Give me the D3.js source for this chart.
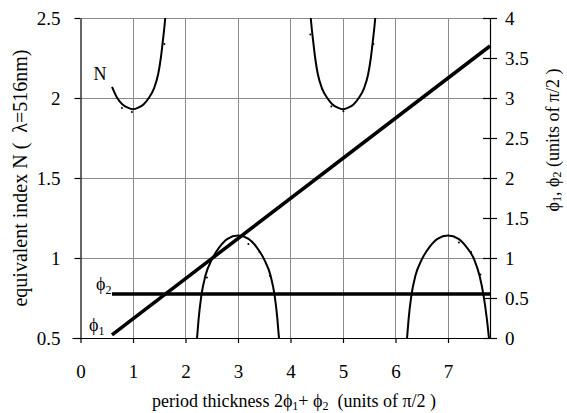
<!DOCTYPE html>
<html>
<head>
<meta charset="utf-8">
<script src="https://cdn.jsdelivr.net/npm/d3@7"></script>
<style>
  html, body { margin: 0; padding: 0; background: #fff; }
  svg { display: block; }
</style>
</head>
<body>
<div id="chart"></div>
<script>
// Equivalent index N branches (left axis), x = period thickness in units of pi/2
const branchA = [[0.60,2.07],[0.70,2.00],[0.80,1.96],[0.90,1.94],[1.00,1.93],[1.10,1.94],[1.20,1.96],[1.30,2.00],[1.40,2.06],[1.48,2.15],[1.53,2.25],[1.57,2.36],[1.60,2.45],[1.62,2.52]];
const branchB = [[4.38,2.52],[4.40,2.45],[4.43,2.36],[4.47,2.25],[4.52,2.15],[4.60,2.06],[4.70,2.00],[4.80,1.96],[4.90,1.94],[5.00,1.93],[5.10,1.94],[5.20,1.96],[5.30,2.00],[5.40,2.06],[5.48,2.15],[5.53,2.25],[5.57,2.36],[5.60,2.45],[5.62,2.52]];
const branchC = [[2.22,0.50],[2.25,0.62],[2.30,0.76],[2.38,0.89],[2.50,0.99],[2.65,1.07],[2.80,1.12],[3.00,1.14],[3.20,1.12],[3.35,1.07],[3.50,0.99],[3.62,0.89],[3.70,0.76],[3.75,0.62],[3.78,0.50]];
const branchD = [[6.22,0.50],[6.25,0.62],[6.30,0.76],[6.38,0.89],[6.50,0.99],[6.65,1.07],[6.80,1.12],[7.00,1.14],[7.20,1.12],[7.35,1.07],[7.50,0.99],[7.60,0.89],[7.68,0.76],[7.74,0.62],[7.78,0.50]];
// Computed sample points along the branches
const samplePoints = [[0.75,1.95],[0.94,1.925],[1.56,2.35],[4.34,2.41],[4.56,2.07],[4.74,1.96],[4.97,1.93],[5.54,2.35],[2.37,0.89],[3.16,1.10],[3.37,1.05],[3.57,0.90],[7.17,1.11],[7.40,1.05],[7.58,0.91]];
// Layer phases (right axis), units of pi/2
const phi1 = [[0.6,0.04],[7.8,3.65]];
const phi2 = [[0.6,0.55],[7.8,0.55]];
// Tick values
const xTicks = [0,1,2,3,4,5,6,7];
const leftTicks = [0.5,1,1.5,2,2.5];
const rightTicks = [0,0.5,1,1.5,2,2.5,3,3.5,4];

const W = 567, H = 413;
const m = {left: 80.5, right: 490, top: 18, bottom: 338};
const FONT = '"Liberation Serif", "Times New Roman", "DejaVu Serif", serif';

const svg = d3.select("#chart").append("svg").attr("width", W).attr("height", H)
  .style("font-family", FONT);
svg.append("rect").attr("width", W).attr("height", H).attr("fill", "#fff");

const x = d3.scaleLinear().domain([0, 7.8]).range([m.left, m.right]);
const yL = d3.scaleLinear().domain([0.5, 2.5]).range([m.bottom, m.top]);
const yR = d3.scaleLinear().domain([0, 4]).range([m.bottom, m.top]);

// grid
const grid = svg.append("g").attr("stroke", "#8a8a8a").attr("stroke-width", 1).attr("shape-rendering", "crispEdges");
grid.selectAll(".gv").data(xTicks.filter(d => d > 0)).join("line")
  .attr("x1", d => x(d)).attr("x2", d => x(d)).attr("y1", m.top).attr("y2", m.bottom);
grid.selectAll(".gh").data(leftTicks.filter(d => d > 0.5)).join("line")
  .attr("x1", m.left).attr("x2", m.right).attr("y1", d => yL(d)).attr("y2", d => yL(d));

// axes
const fs = "19px";
const fmt = d3.format("~g");
const ax = svg.append("g").attr("transform", `translate(0,${m.bottom})`)
  .call(d3.axisBottom(x).tickValues(xTicks).tickFormat(fmt).tickSize(5).tickPadding(22).tickSizeOuter(0));
ax.select(".domain").attr("d", `M${m.left - 8},0.5H${m.right + 7}`);
const al = svg.append("g").attr("transform", `translate(${m.left},0)`)
  .call(d3.axisLeft(yL).tickValues(leftTicks).tickFormat(fmt).tickSize(6).tickPadding(14).tickSizeOuter(0));
const ar = svg.append("g").attr("transform", `translate(${m.right},0)`)
  .call(d3.axisRight(yR).tickValues(rightTicks).tickFormat(fmt).tickSize(7).tickPadding(8).tickSizeOuter(0));
ar.selectAll(".tick line").attr("x1", -7);
[ax, al, ar].forEach(g => {
  g.attr("font-family", FONT).attr("font-size", fs);
  g.selectAll("text").attr("fill", "#000");
  g.selectAll("line, path").attr("stroke", "#000").attr("stroke-width", 1.2);
});

// clip to plot area
svg.append("clipPath").attr("id", "plot").append("rect")
  .attr("x", m.left).attr("y", m.top).attr("width", m.right - m.left + 2).attr("height", m.bottom - m.top);

const plot = svg.append("g").attr("clip-path", "url(#plot)");
const lineL = d3.line().x(d => x(d[0])).y(d => yL(d[1])).curve(d3.curveMonotoneX);
const lineR = d3.line().x(d => x(d[0])).y(d => yR(d[1]));

[branchA, branchB, branchC, branchD].forEach(b => {
  plot.append("path").datum(b).attr("d", lineL)
    .attr("fill", "none").attr("stroke", "#000").attr("stroke-width", 2);
});
plot.selectAll(".pt").data(samplePoints).join("circle")
  .attr("cx", d => x(d[0]) + 2).attr("cy", d => yL(d[1]) + 2).attr("r", 1).attr("fill", "#000");

[phi1, phi2].forEach(p => {
  svg.append("path").datum(p).attr("d", lineR)
    .attr("fill", "none").attr("stroke", "#000").attr("stroke-width", 3.5);
});

// curve labels
svg.append("text").attr("x", 100).attr("y", 80).attr("text-anchor", "middle").attr("font-size", 18).text("N");
const t2 = svg.append("text").attr("x", 96).attr("y", 290).attr("font-size", 18);
t2.append("tspan").text("ϕ");
t2.append("tspan").attr("dy", 4).attr("font-size", 12).text("2");
const t1 = svg.append("text").attr("x", 89).attr("y", 331).attr("font-size", 18);
t1.append("tspan").text("ϕ");
t1.append("tspan").attr("dy", 4).attr("font-size", 12).text("1");

// axis titles
const xt = svg.append("text").attr("x", 294).attr("y", 407).attr("text-anchor", "middle").attr("font-size", 18);
xt.append("tspan").text("period thickness 2ϕ");
xt.append("tspan").attr("dy", 3).attr("font-size", 12).text("1");
xt.append("tspan").attr("dy", -3).text("+ ϕ");
xt.append("tspan").attr("dy", 3).attr("font-size", 12).text("2");
xt.append("tspan").attr("dy", -3).text("\u00a0 (units of π/2 )");

svg.append("text").attr("transform", "translate(27,178) rotate(-90)").attr("text-anchor", "middle")
  .attr("font-size", 20).text("equivalent index N (\u00a0 λ=516nm)");

const rt = svg.append("text").attr("transform", "translate(559,140) rotate(-90)").attr("text-anchor", "middle")
  .attr("font-size", 18);
rt.append("tspan").text("ϕ");
rt.append("tspan").attr("dy", 2).attr("font-size", 12).text("1");
rt.append("tspan").attr("dy", -2).text(", ϕ");
rt.append("tspan").attr("dy", 2).attr("font-size", 12).text("2");
rt.append("tspan").attr("dy", -2).text(" (units of π/2 )");
</script>
</body>
</html>
